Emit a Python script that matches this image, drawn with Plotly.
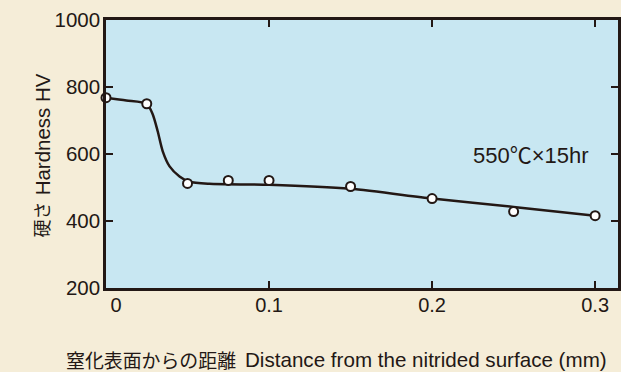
import plotly.graph_objects as go

# ---- data ----
depth_mm = [0, 0.025, 0.05, 0.075, 0.1, 0.15, 0.2, 0.25, 0.3]
hardness_hv = [768, 750, 512, 521, 521, 503, 467, 428, 416]

curve_x = [0, 0.0125, 0.025, 0.0287, 0.0317, 0.0348, 0.039, 0.0451, 0.0512,
           0.0634, 0.1, 0.15, 0.2, 0.25, 0.3]
curve_y = [768, 760, 750, 718, 668, 608, 563, 533, 517,
           511, 508, 496, 467, 442, 416]

x_tick_vals = [0, 0.1, 0.2, 0.3]
x_tick_text = ["\u2002\u20020", "0.1", "0.2", "0.3"]
y_tick_vals = [200, 400, 600, 800, 1000]
y_tick_text = ["200", "400", "600", "800", "1000"]

condition_label = "550\u2103\u00d715hr"
y_title_jp = "硬さ"
y_title_en = "Hardness HV"
x_title_jp = "窒化表面からの距離"
x_title_en = "Distance from the nitrided surface (mm)"

INK = "#231815"
PAPER = "#F5EDD8"
PLOT_BG = "#C8E7F2"
LATIN = "Liberation Sans, Arial, Noto Sans CJK JP, sans-serif"
CJK = "Noto Sans CJK JP, sans-serif"

W, H = 621, 372
L, R, T, B = 106, 0, 20, 84
PW = W - L - R
PH = H - T - B


def px_x(p):
    return (p - L) / PW


def px_y(p):
    return (H - B - p) / PH


fig = go.Figure()
fig.add_trace(go.Scatter(
    x=curve_x, y=curve_y, mode="lines",
    line=dict(color=INK, width=2.5, shape="spline", smoothing=0.7),
    hoverinfo="skip", showlegend=False))
fig.add_trace(go.Scatter(
    x=depth_mm, y=hardness_hv, mode="markers",
    marker=dict(size=9, color="white", line=dict(color=INK, width=2)),
    showlegend=False, cliponaxis=False))

fig.update_layout(
    width=W, height=H,
    margin=dict(l=L, r=R, t=T, b=B, pad=0),
    paper_bgcolor=PAPER, plot_bgcolor=PLOT_BG,
    font=dict(family=LATIN, color=INK, size=20),
    showlegend=False,
    xaxis=dict(range=[0, (W - L) / 1640.0], tickvals=x_tick_vals, ticktext=x_tick_text,
               ticks="inside", ticklen=7, tickwidth=2, tickcolor=INK,
               showline=True, linewidth=2.5, linecolor=INK, mirror="ticks",
               showgrid=False, zeroline=False, tickfont=dict(size=20, family=LATIN),
               ticklabelstandoff=-3, fixedrange=True),
    yaxis=dict(range=[200, 1000], tickvals=y_tick_vals, ticktext=y_tick_text,
               ticks="inside", ticklen=7, tickwidth=2, tickcolor=INK,
               showline=True, linewidth=2.5, linecolor=INK, mirror="ticks",
               showgrid=False, zeroline=False, tickfont=dict(size=20.5, family=LATIN),
               ticklabelstandoff=-1, fixedrange=True),
)

ann = []
ann.append(dict(x=0.2604, y=597, xref="x", yref="y", text=condition_label,
                showarrow=False, xanchor="center", yanchor="middle",
                font=dict(size=22, family=LATIN, color=INK)))
# y title (rotated)
ann.append(dict(x=px_x(42), y=px_y(134), xref="paper", yref="paper", text=y_title_en,
                showarrow=False, textangle=-90, xanchor="center", yanchor="middle",
                font=dict(size=20.5, family=LATIN, color=INK)))
ann.append(dict(x=px_x(41), y=px_y(219), xref="paper", yref="paper", text=y_title_jp,
                showarrow=False, textangle=-90, xanchor="center", yanchor="middle",
                font=dict(size=18, family=CJK, color=INK)))
# x title
ann.append(dict(x=px_x(64), y=px_y(360), xref="paper", yref="paper", text=x_title_jp,
                showarrow=False, xanchor="left", yanchor="middle",
                font=dict(size=18.9, family=CJK, color=INK)))
ann.append(dict(x=px_x(244), y=px_y(360), xref="paper", yref="paper", text=x_title_en,
                showarrow=False, xanchor="left", yanchor="middle",
                font=dict(size=20.6, family=LATIN, color=INK)))
fig.update_layout(annotations=ann)

fig.write_html("out.html", config={"displayModeBar": False},
               post_script="document.body.style.margin='0';document.body.style.overflow='hidden';")
